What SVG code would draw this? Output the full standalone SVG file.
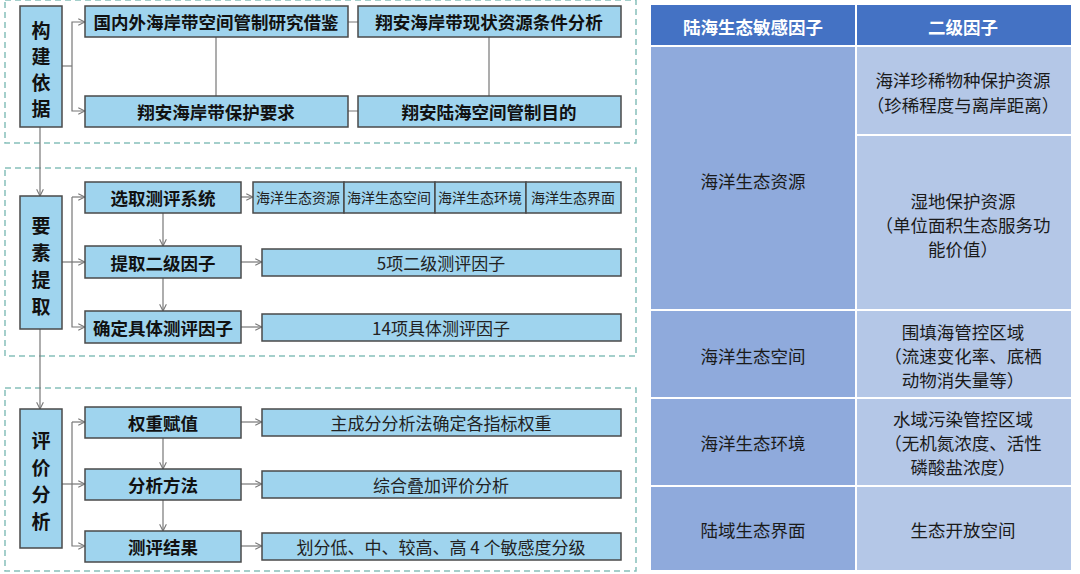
<svg xmlns="http://www.w3.org/2000/svg" width="1080" height="574" viewBox="0 0 1080 574">
<style>
.c{fill:none;stroke:#86c0ba;stroke-width:1.5;stroke-dasharray:6 4}
.b{fill:#9fd4ee;stroke:#4a4a4a;stroke-width:1.5}
.t{font-family:"Noto Sans CJK SC",sans-serif;font-size:17.5px;font-weight:bold;fill:#111;text-anchor:middle;dominant-baseline:central}
.n{font-family:"Noto Sans CJK SC",sans-serif;font-size:17px;fill:#222;text-anchor:middle;dominant-baseline:central}
.s{font-size:14px}
.l{fill:none;stroke:#777;stroke-width:1.2}
.a{fill:none;stroke:#777;stroke-width:1.2;marker-end:url(#m)}
.tw{font-family:"Noto Sans CJK SC",sans-serif;font-size:17.5px;fill:#1a1a1a;text-anchor:middle;dominant-baseline:central}
.sb{font-size:19px}
</style>
<defs><marker id="m" viewBox="0 0 10 10" refX="9" refY="5" markerWidth="7" markerHeight="7" orient="auto"><path d="M1 1L9 5L1 9" fill="none" stroke="#777" stroke-width="1.3"/></marker></defs>
<rect width="1080" height="574" fill="#fff"/>
<rect class="c" x="5" y="0" width="631" height="143"/>
<rect class="c" x="5" y="168" width="631" height="188"/>
<rect class="c" x="5" y="388" width="631" height="183"/>
<g id="connectors">
<path class="a" d="M40 127V196"/><path class="a" d="M40 329V409"/>
<path class="l" d="M62 66H72"/><path class="a" d="M72 66V22H85"/><path class="a" d="M72 66V111H85"/>
<path class="l" d="M348 22H358M348 111H358M216 37V96M489 37V96"/>
<path class="l" d="M62 262H72"/><path class="a" d="M72 197H85"/><path class="a" d="M72 197V327H85"/><path class="a" d="M72 262H85"/>
<path class="a" d="M163 213V246"/><path class="a" d="M163 278V311"/>
<path class="a" d="M241 197H253"/><path class="a" d="M241 262H262"/><path class="a" d="M241 327H262"/>
<path class="l" d="M62 484H72"/><path class="a" d="M72 422H85"/><path class="a" d="M72 422V546H85"/><path class="a" d="M72 484H85"/>
<path class="a" d="M163 438V469"/><path class="a" d="M163 500V531"/>
<path class="a" d="M241 422H262"/><path class="a" d="M241 484H262"/><path class="a" d="M241 546H262"/>
</g>
<g id="s1"><rect class="b" x="20" y="6" width="42" height="121"/><text class="t sb"><tspan x="41" y="29">构</tspan><tspan x="41" y="55">建</tspan><tspan x="41" y="81">依</tspan><tspan x="41" y="107">据</tspan></text></g>
<g id="n1"><rect class="b" x="85" y="6" width="263" height="31"/><text class="t" x="216" y="21">国内外海岸带空间管制研究借鉴</text></g>
<g id="n2"><rect class="b" x="358" y="6" width="263" height="31"/><text class="t" x="489" y="21">翔安海岸带现状资源条件分析</text></g>
<g id="n3"><rect class="b" x="85" y="96" width="263" height="31"/><text class="t" x="216" y="111">翔安海岸带保护要求</text></g>
<g id="n4"><rect class="b" x="358" y="96" width="263" height="31"/><text class="t" x="489" y="111">翔安陆海空间管制目的</text></g>
<g id="s2"><rect class="b" x="20" y="196" width="42" height="133"/><text class="t sb"><tspan x="41" y="224">要</tspan><tspan x="41" y="251">素</tspan><tspan x="41" y="278">提</tspan><tspan x="41" y="305">取</tspan></text></g>
<g id="n5"><rect class="b" x="85" y="182" width="156" height="31"/><text class="t" x="163" y="197">选取测评系统</text></g>
<g id="n6"><rect class="b" x="253" y="182" width="91" height="31"/><rect class="b" x="344" y="182" width="91" height="31"/><rect class="b" x="435" y="182" width="91" height="31"/><rect class="b" x="526" y="182" width="95" height="31"/>
<text class="n s" x="298" y="197">海洋生态资源</text><text class="n s" x="389" y="197">海洋生态空间</text><text class="n s" x="480" y="197">海洋生态环境</text><text class="n s" x="573" y="197">海洋生态界面</text></g>
<g id="n7"><rect class="b" x="85" y="246" width="156" height="32"/><text class="t" x="163" y="262">提取二级因子</text></g>
<g id="n8"><rect class="b" x="262" y="249" width="359" height="27"/><text class="n" x="441" y="262">5项二级测评因子</text></g>
<g id="n9"><rect class="b" x="85" y="311" width="156" height="32"/><text class="t" x="163" y="327">确定具体测评因子</text></g>
<g id="n10"><rect class="b" x="262" y="314" width="359" height="27"/><text class="n" x="441" y="327">14项具体测评因子</text></g>
<g id="s3"><rect class="b" x="20" y="409" width="42" height="139"/><text class="t sb"><tspan x="41" y="439">评</tspan><tspan x="41" y="466">价</tspan><tspan x="41" y="493">分</tspan><tspan x="41" y="520">析</tspan></text></g>
<g id="n11"><rect class="b" x="85" y="407" width="156" height="31"/><text class="t" x="163" y="422">权重赋值</text></g>
<g id="n12"><rect class="b" x="262" y="409" width="359" height="27"/><text class="n" x="441" y="422">主成分分析法确定各指标权重</text></g>
<g id="n13"><rect class="b" x="85" y="469" width="156" height="31"/><text class="t" x="163" y="484">分析方法</text></g>
<g id="n14"><rect class="b" x="262" y="471" width="359" height="27"/><text class="n" x="441" y="484">综合叠加评价分析</text></g>
<g id="n15"><rect class="b" x="85" y="531" width="156" height="31"/><text class="t" x="163" y="546">测评结果</text></g>
<g id="n16"><rect class="b" x="262" y="533" width="359" height="27"/><text class="n" x="441" y="546">划分低、中、较高、高 4 个敏感度分级</text></g>
<g id="table">
<rect x="651" y="5" width="420" height="41" fill="#4472c4"/>
<rect x="651" y="46" width="205" height="524" fill="#8faadc"/>
<rect x="856" y="46" width="215" height="524" fill="#b4c7e7"/>
<path d="M856 5V570M856 135H1071M651 310H1071M651 398H1071M651 486H1071M651 46H1071" stroke="#fff" stroke-width="2"/>
<text class="t" style="fill:#fff" font-size="18" x="753" y="26">陆海生态敏感因子</text>
<text class="t" style="fill:#fff" font-size="18" x="963" y="26">二级因子</text>
<text class="tw" x="753" y="180">海洋生态资源</text>
<text class="tw" x="753" y="355">海洋生态空间</text>
<text class="tw" x="753" y="442">海洋生态环境</text>
<text class="tw" x="753" y="529">陆域生态界面</text>
<text class="tw"><tspan x="963" y="79">海洋珍稀物种保护资源</tspan><tspan x="963" y="104">（珍稀程度与离岸距离）</tspan></text>
<text class="tw"><tspan x="963" y="200">湿地保护资源</tspan><tspan x="963" y="224">（单位面积生态服务功</tspan><tspan x="963" y="248">能价值）</tspan></text>
<text class="tw"><tspan x="963" y="331">围填海管控区域</tspan><tspan x="963" y="355">（流速变化率、底栖</tspan><tspan x="963" y="379">动物消失量等）</tspan></text>
<text class="tw"><tspan x="963" y="418">水域污染管控区域</tspan><tspan x="963" y="442">（无机氮浓度、活性</tspan><tspan x="963" y="466">磷酸盐浓度）</tspan></text>
<text class="tw" x="963" y="529">生态开放空间</text>
</g>
</svg>
